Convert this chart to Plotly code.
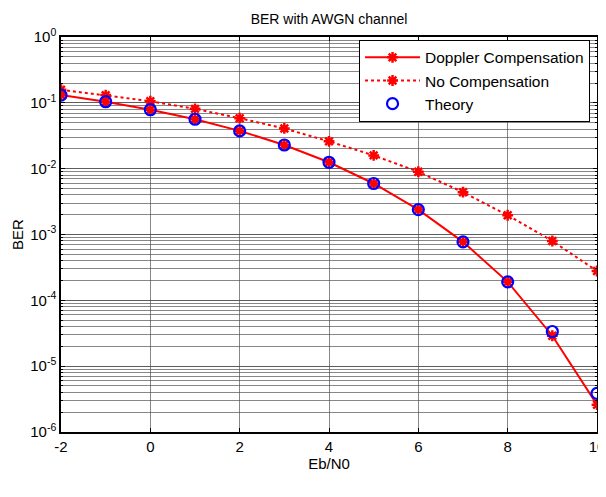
import plotly.graph_objects as go

ebn0 = [-2, -1, 0, 1, 2, 3, 4, 5, 6, 7, 8, 9, 10]
ber_doppler = [0.131, 0.104, 0.0786, 0.0563, 0.0375, 0.0229, 0.0125, 0.00595, 0.00239, 7.73e-4, 1.91e-4, 2.9e-5, 2.6e-6]
ber_nocomp = [0.158, 0.131, 0.106, 0.0810, 0.0584, 0.0408, 0.026, 0.0159, 0.00897, 0.00439, 0.00196, 7.96e-4, 2.79e-4]
ber_theory = [0.1306, 0.1040, 0.0786, 0.0563, 0.0375, 0.0229, 0.0125, 0.00595, 0.00239, 7.73e-4, 1.91e-4, 3.36e-5, 3.87e-6]

ytick_vals = [1e-6, 1e-5, 1e-4, 1e-3, 1e-2, 1e-1, 1e0]
ytick_text = ["10<sup>-6</sup>", "10<sup>-5</sup>", "10<sup>-4</sup>", "10<sup>-3</sup>",
              "10<sup>-2</sup>", "10<sup>-1</sup>", "10<sup>0</sup>"]
xtick_vals = [-2, 0, 2, 4, 6, 8, 10]

FONT = "Liberation Sans, Arial, sans-serif"

fig = go.Figure()
fig.add_trace(go.Scatter(
    x=ebn0, y=ber_doppler, name="Doppler Compensation", mode="lines+markers",
    line=dict(color="#ff0000", width=2),
    marker=dict(symbol="asterisk-open", size=9, color="#ff0000",
                line=dict(color="#ff0000", width=2.5)),
))
fig.add_trace(go.Scatter(
    x=ebn0, y=ber_nocomp, name="No Compensation", mode="lines+markers",
    line=dict(color="#ff0000", width=2, dash="dot"),
    marker=dict(symbol="asterisk-open", size=9, color="#ff0000",
                line=dict(color="#ff0000", width=2.5)),
))
fig.add_trace(go.Scatter(
    x=ebn0, y=ber_theory, name="Theory", mode="markers",
    marker=dict(symbol="circle-open", size=11, color="#0000ff",
                line=dict(color="#0000ff", width=2.2)),
))

grid_col = "rgba(70,70,70,0.65)"
fig.update_layout(
    width=606, height=497,
    margin=dict(l=53, r=9, t=29, b=73),
    paper_bgcolor="white", plot_bgcolor="white",
    font=dict(family=FONT, size=13, color="black"),
    title=dict(text="BER with AWGN channel", x=0.5, xref="paper", xanchor="center",
               y=1 - 11 / 497, yref="container", yanchor="middle",
               font=dict(family=FONT, size=14, color="black")),
    showlegend=True,
    legend=dict(x=0.987, y=0.993, xanchor="right", yanchor="top",
                bgcolor="white", bordercolor="black", borderwidth=1,
                font=dict(family=FONT, size=15.5, color="black"),
                itemwidth=55),
    xaxis=dict(
        range=[-2, 10], tickvals=xtick_vals, ticktext=[str(v) for v in xtick_vals],
        showgrid=True, gridcolor=grid_col, gridwidth=1,
        showline=True, linecolor="black", linewidth=1.5, mirror="allticks",
        ticks="inside", ticklen=4, tickcolor="black",
        zeroline=False,
        title=dict(text="Eb/N0", font=dict(family=FONT, size=15), standoff=5),
        tickfont=dict(family=FONT, size=15),
    ),
    yaxis=dict(
        type="log", range=[-6, 0], tickvals=ytick_vals, ticktext=ytick_text,
        showgrid=True, gridcolor=grid_col, gridwidth=1,
        showline=True, linecolor="black", linewidth=1.5, mirror="allticks",
        ticks="inside", ticklen=4, tickcolor="black",
        minor=dict(dtick="D1", showgrid=True, gridcolor=grid_col, gridwidth=1,
                   ticks="inside", ticklen=2, tickcolor="black"),
        zeroline=False,
        title=dict(text="BER", font=dict(family=FONT, size=15), standoff=3),
        tickfont=dict(family=FONT, size=15),
    ),
)

fig.write_html("out.html")
